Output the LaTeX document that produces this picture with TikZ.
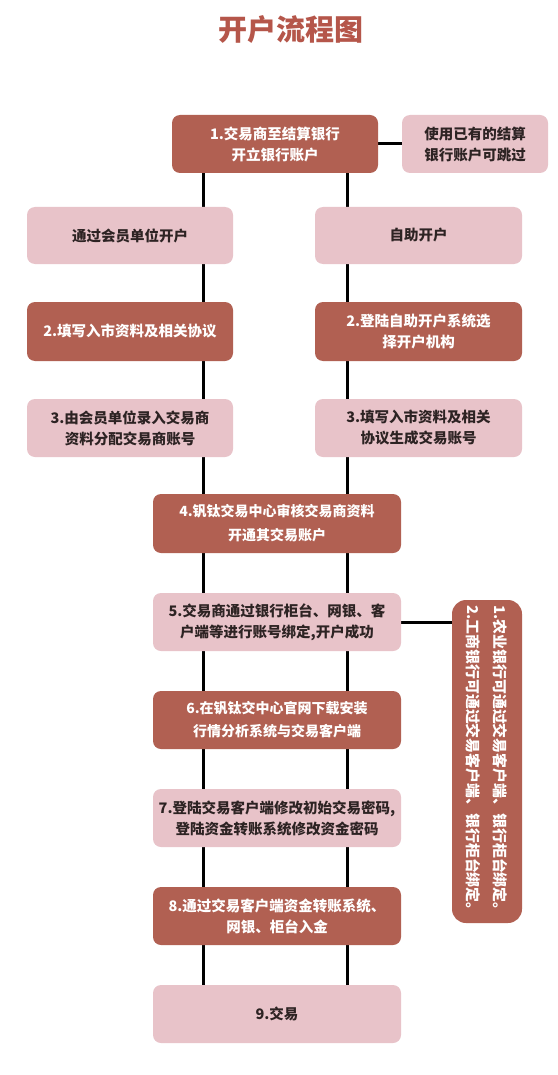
\documentclass[tikz,border=0pt]{standalone}
\usepackage{fontspec}
\setmainfont{Noto Sans CJK SC}
\usetikzlibrary{backgrounds}
\definecolor{darkbox}{RGB}{177,96,82}
\definecolor{pinkbox}{RGB}{232,195,201}
\definecolor{titlecol}{RGB}{181,86,74}
\definecolor{darktext}{RGB}{45,35,35}
\begin{document}
\begin{tikzpicture}[x=1pt,y=-1pt,
  boxbase/.style={rounded corners=8pt, inner sep=0pt, align=center,
    font=\fontsize{14.5}{21}\selectfont\bfseries},
  darkstep/.style={boxbase, fill=darkbox, text=white},
  pinkstep/.style={boxbase, fill=pinkbox, text=darktext},
  conn/.style={draw=black, line width=3pt}]
\useasboundingbox (0,0) rectangle (557,1075);
\node (title) at (291,30) {\fontsize{29}{30}\selectfont\bfseries\color{titlecol}开户流程图};
\node[darkstep, minimum width=206pt, minimum height=58pt] (b1) at (275,144) {1.交易商至结算银行\\开立银行账户};
\node[pinkstep, minimum width=146pt, minimum height=58pt] (side) at (475,144) {使用已有的结算\\银行账户可跳过};
\node[pinkstep, minimum width=206pt, minimum height=57pt] (l1) at (130,235.5) {通过会员单位开户};
\node[pinkstep, minimum width=207pt, minimum height=57pt] (r1) at (418.5,235.5) {自助开户};
\node[darkstep, minimum width=206pt, minimum height=59pt] (l2) at (130,331.5) {2.填写入市资料及相关协议};
\node[darkstep, minimum width=207pt, minimum height=59pt] (r2) at (418.5,331.5) {2.登陆自助开户系统选\\择开户机构};
\node[pinkstep, minimum width=206pt, minimum height=58pt] (l3) at (130,428) {3.由会员单位录入交易商\\资料分配交易商账号};
\node[pinkstep, minimum width=207pt, minimum height=58pt] (r3) at (418.5,428) {3.填写入市资料及相关\\协议生成交易账号};
\node[darkstep, minimum width=248pt, minimum height=59pt, font=\fontsize{14}{24}\selectfont\bfseries] (b4) at (277,523.5) {4.钒钛交易中心审核交易商资料\\开通其交易账户};
\node[pinkstep, minimum width=248pt, minimum height=58pt] (b5) at (277,622) {5.交易商通过银行柜台、网银、客\\户端等进行账号绑定,开户成功};
\node[darkstep, minimum width=248pt, minimum height=58pt, font=\fontsize{14}{23}\selectfont\bfseries] (b6) at (277,720) {6.在钒钛交中心官网下载安装\\行情分析系统与交易客户端};
\node[pinkstep, minimum width=248pt, minimum height=58pt] (b7) at (277,818) {7.登陆交易客户端修改初始交易密码,\\登陆资金转账系统修改资金密码};
\node[darkstep, minimum width=248pt, minimum height=58pt] (b8) at (277,916) {8.通过交易客户端资金转账系统、\\网银、柜台入金};
\node[pinkstep, minimum width=248pt, minimum height=58pt] (b9) at (277,1014) {9.交易};
\node[darkstep, rotate=-90, rounded corners=14pt, minimum width=323pt, minimum height=70pt, align=left,
  font=\fontsize{14.9}{27}\selectfont\bfseries] (vb) at (487,761.5)
  {1.农业银行可通过交易客户端、银行柜台绑定。\\2.工商银行可通过交易客户端、银行柜台绑定。};
\coordinate (xl) at (203,0);
\coordinate (xr) at (347,0);
\begin{scope}[on background layer]
\fill[white] (0,0) rectangle (557,1075);
\draw[conn] (b1.south -| xl) -- (b9.north -| xl);
\draw[conn] (b1.south -| xr) -- (b9.north -| xr);
\draw[conn] (b1.east) -- (side.west);
\draw[conn] (b5.east) -- (vb.north |- b5.east);
\end{scope}
\end{tikzpicture}
\end{document}
